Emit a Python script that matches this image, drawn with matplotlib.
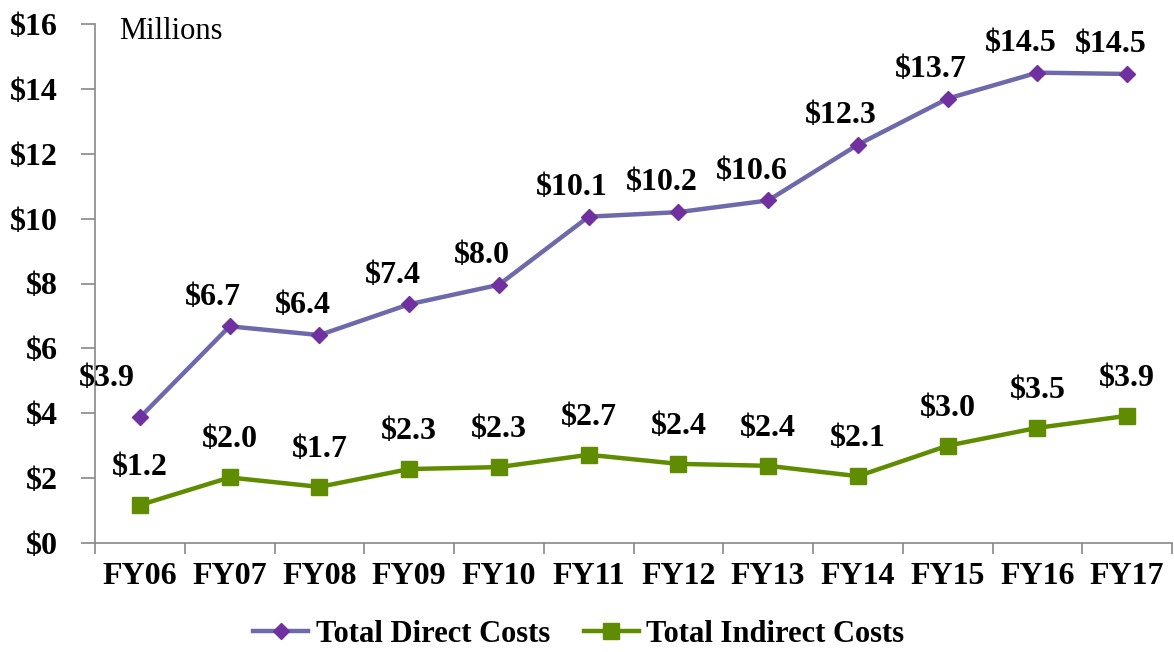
import matplotlib
matplotlib.use("Agg")
import matplotlib.pyplot as plt

categories = ["FY06", "FY07", "FY08", "FY09", "FY10", "FY11", "FY12", "FY13", "FY14", "FY15", "FY16", "FY17"]
direct = [3.87, 6.68, 6.41, 7.36, 7.96, 10.06, 10.2, 10.56, 12.28, 13.7, 14.5, 14.46]
indirect = [1.17, 2.02, 1.73, 2.28, 2.34, 2.72, 2.44, 2.38, 2.06, 3.0, 3.55, 3.92]
yticks = [0, 2, 4, 6, 8, 10, 12, 14, 16]

plt.rcParams['font.family'] = ['Liberation Serif', 'DejaVu Serif']

fig = plt.figure(figsize=(11.74, 6.52), dpi=100)
ax = fig.add_axes([95/1174, 1-543/652, (1172-95)/1174, (543-24)/652])

x = list(range(len(categories)))
purple_line = '#6D69AA'
purple_mark = '#7030A0'
green = '#5F8C00'

ax.plot(x, direct, color=purple_line, lw=3.2, marker='D', markersize=8.5,
        markerfacecolor=purple_mark, markeredgecolor=purple_mark, label='Total Direct Costs', zorder=3)
ax.plot(x, indirect, color=green, lw=3.2, marker='s', markersize=11,
        markerfacecolor=green, markeredgecolor=green, label='Total Indirect Costs', zorder=3)

for i, v in enumerate(direct):
    dx, dy = (-24, 28) if i == 0 else (-12, 21)
    ax.annotate(f"${v:.1f}", (i, v), xytext=(dx, dy), textcoords='offset points',
                ha='center', va='center', fontsize=23, fontweight='bold')
for i, v in enumerate(indirect):
    ax.annotate(f"${v:.1f}", (i, v), xytext=(0, 27), textcoords='offset points',
                ha='center', va='center', fontsize=23, fontweight='bold')

ax.set_xlim(-0.5, len(categories) - 0.5)
ax.set_ylim(0, 16)
ax.set_yticks(yticks)
ax.set_yticklabels([f"${t}" for t in yticks], fontsize=23, fontweight='bold')
ax.set_xticks(x)
ax.set_xticklabels(categories, fontsize=23, fontweight='bold')
ax.tick_params(axis='x', length=0, pad=14)
ax.set_xticks([i - 0.5 for i in range(len(categories) + 1)], minor=True)
ax.tick_params(axis='x', which='minor', length=8, color='#888888', width=1.2)
ax.tick_params(axis='y', length=10, color='#888888', width=1.2, pad=17)
for s in ['top', 'right']:
    ax.spines[s].set_visible(False)
for s in ['left', 'bottom']:
    ax.spines[s].set_color('#888888')
    ax.spines[s].set_linewidth(1.2)

ax.text(0.022, 0.985, "Millions", transform=ax.transAxes, fontsize=22, va='center', ha='left')

leg = fig.legend(loc='center', bbox_to_anchor=(0.493, 1-634/652), ncol=2, frameon=False,
                 prop={'size': 22, 'weight': 'bold'}, handlelength=1.8, columnspacing=1.1,
                 handletextpad=0.25)

fig.savefig("out.png", dpi=100)
